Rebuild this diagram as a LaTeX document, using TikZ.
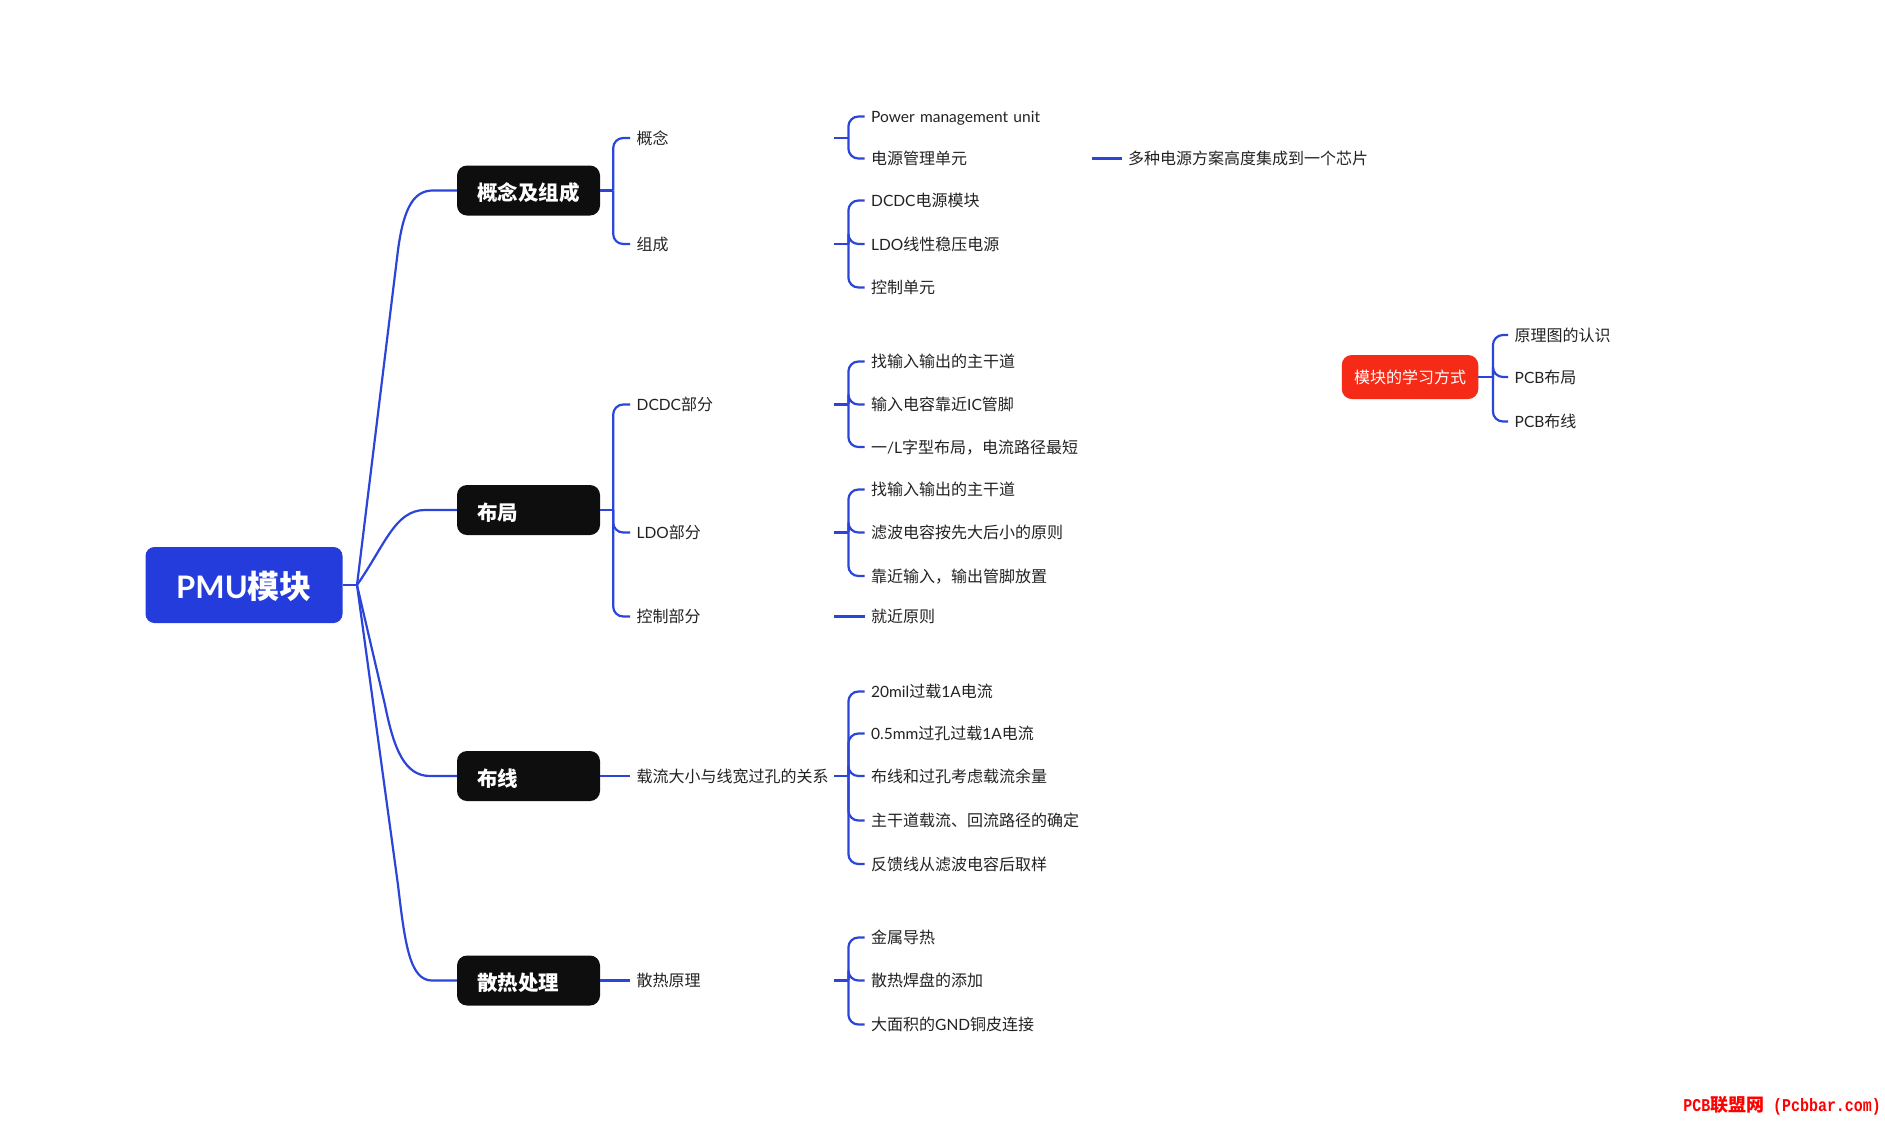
\documentclass[tikz,border=0pt]{standalone}
\usepackage{fontspec}
\setmainfont{Noto Sans CJK SC}
\newfontfamily\lat[Scale=0.97]{Lato}
\newfontfamily\wmlat[FakeStretch=0.83]{Liberation Mono}
\definecolor{linkblue}{HTML}{2A45D8}
\definecolor{rootblue}{HTML}{243CDB}
\definecolor{nearblack}{HTML}{0E0E0E}
\definecolor{redbox}{HTML}{F52B18}
\definecolor{inktext}{HTML}{222222}
\tikzset{
  conn/.style={draw=linkblue,line width=2.2pt},
  rootbox/.style={fill=rootblue,rounded corners=9pt,minimum width=197pt,minimum height=76pt,inner sep=0pt,text height=32pt,text depth=5.2pt,text=white,font=\fontsize{32}{36}\selectfont\bfseries},
  topicbox/.style={fill=nearblack,rounded corners=10pt,minimum width=143pt,minimum height=50pt,text width=103pt,inner xsep=20pt,inner ysep=0pt,text height=24pt,text depth=4pt,align=left,text=white,font=\fontsize{20.5}{24}\selectfont\bfseries},
  redtopic/.style={fill=redbox,rounded corners=10pt,minimum width=136.5pt,minimum height=44pt,inner sep=0pt,text height=15pt,text depth=2pt,text=white,font=\fontsize{16}{20}\selectfont},
  lbl/.style={anchor=west,inner xsep=6.5pt,inner ysep=0pt,text height=16.8pt,text depth=4pt,text=inktext,font=\fontsize{16}{20}\selectfont},
  lvltwo/.style={lbl,text width=191pt,align=left},
  wider/.style={lbl,text width=214pt,align=left},
}
\newcommand{\forkto}[3]{%
  \coordinate (j#1) at ([xshift=#2pt]#1.east);
  \draw[conn] (#1.east) -- (j#1);
  \foreach \c in {#3} {\draw[conn,rounded corners=10pt] (j#1) |- (\c.west);}
}
\begin{document}
\begin{tikzpicture}[x=1pt,y=-1pt]
\useasboundingbox (0,0) rectangle (1885,1120);
% root
\node[rootbox] (root) at (244,585) {{\lat\bfseries PMU}模块};
\coordinate (hub) at (357,585);
% topics
\node[topicbox] (t1) at (528.5,190.5) {概念及组成};
\node[topicbox] (t2) at (528.5,510) {布局};
\node[topicbox] (t3) at (528.5,776) {布线};
\node[topicbox] (t4) at (528.5,980.5) {散热处理};
\draw[conn] (root.east) -- (hub);
\draw[conn] (hub) -- (398,250) .. controls (404,205) and (415,190.5) .. (433,190.5) -- (t1.west);
\draw[conn] (hub) .. controls (385,545) and (395,510) .. (425,510) -- (t2.west);
\draw[conn] (hub) -- (385,705) .. controls (394,750) and (405,776) .. (430,776) -- (t3.west);
\draw[conn] (hub) -- (398,885) .. controls (405,945) and (410,980.5) .. (432,980.5) -- (t4.west);
% second level
\node[lvltwo] (a1) at (630,138) {概念};
\node[lvltwo] (a2) at (630,244) {组成};
\node[lvltwo] (b1) at (630,404.5) {{\lat DCDC}部分};
\node[lvltwo] (b2) at (630,532.5) {{\lat LDO}部分};
\node[lvltwo] (b3) at (630,616.5) {控制部分};
\node[lvltwo] (c1) at (630,776) {载流大小与线宽过孔的关系};
\node[lvltwo] (d1) at (630,980.5) {散热原理};
% third level
\node[wider] (a11) at (864.5,116.5) {{\lat Power management unit}};
\node[wider] (a12) at (864.5,158.5) {电源管理单元};
\node[lbl] (a121) at (1121.5,158.5) {多种电源方案高度集成到一个芯片};
\node[lbl] (a21) at (864.5,200.5) {{\lat DCDC}电源模块};
\node[lbl] (a22) at (864.5,244) {{\lat LDO}线性稳压电源};
\node[lbl] (a23) at (864.5,287.5) {控制单元};
\node[lbl] (b11) at (864.5,361.5) {找输入输出的主干道};
\node[lbl] (b12) at (864.5,404.5) {输入电容靠近{\lat IC}管脚};
\node[lbl] (b13) at (864.5,447) {一{\lat/L}字型布局，电流路径最短};
\node[lbl] (b21) at (864.5,489.5) {找输入输出的主干道};
\node[lbl] (b22) at (864.5,532.5) {滤波电容按先大后小的原则};
\node[lbl] (b23) at (864.5,576) {靠近输入，输出管脚放置};
\node[lbl] (b31) at (864.5,616.5) {就近原则};
\node[lbl] (c11) at (864.5,691.5) {{\lat 20mil}过载{\lat 1A}电流};
\node[lbl] (c12) at (864.5,733.5) {{\lat 0.5mm}过孔过载{\lat 1A}电流};
\node[lbl] (c13) at (864.5,776) {布线和过孔考虑载流余量};
\node[lbl] (c14) at (864.5,820.5) {主干道载流、回流路径的确定};
\node[lbl] (c15) at (864.5,864) {反馈线从滤波电容后取样};
\node[lbl] (d11) at (864.5,937.5) {金属导热};
\node[lbl] (d12) at (864.5,980.5) {散热焊盘的添加};
\node[lbl] (d13) at (864.5,1024.5) {大面积的{\lat GND}铜皮连接};
% connectors
\forkto{t1}{13}{a1,a2}
\forkto{t2}{13}{b1,b2,b3}
\draw[conn] (t3.east) -- (c1.west);
\draw[conn] (t4.east) -- (d1.west);
\forkto{a1}{14}{a11,a12}
\forkto{a2}{14}{a21,a22,a23}
\forkto{b1}{14}{b11,b12,b13}
\forkto{b2}{14}{b21,b22,b23}
\draw[conn] (b3.east) -- (b31.west);
\forkto{c1}{14}{c11,c12,c13,c14,c15}
\forkto{d1}{14}{d11,d12,d13}
\draw[conn] (a12.east) -- (a121.west);
% side topic
\node[redtopic] (r) at (1410,377) {模块的学习方式};
\node[lbl] (r1) at (1508,335) {原理图的认识};
\node[lbl] (r2) at (1508,377) {{\lat PCB}布局};
\node[lbl] (r3) at (1508,421.5) {{\lat PCB}布线};
\forkto{r}{14.5}{r1,r2,r3}
% watermark
\node[anchor=east,inner sep=0pt,text=red,font=\fontsize{18}{20}\selectfont\bfseries] (wm) at (1881,1106) {{\wmlat\bfseries PCB}联盟网{\wmlat\bfseries\ (Pcbbar.com)}};
\end{tikzpicture}
\end{document}
